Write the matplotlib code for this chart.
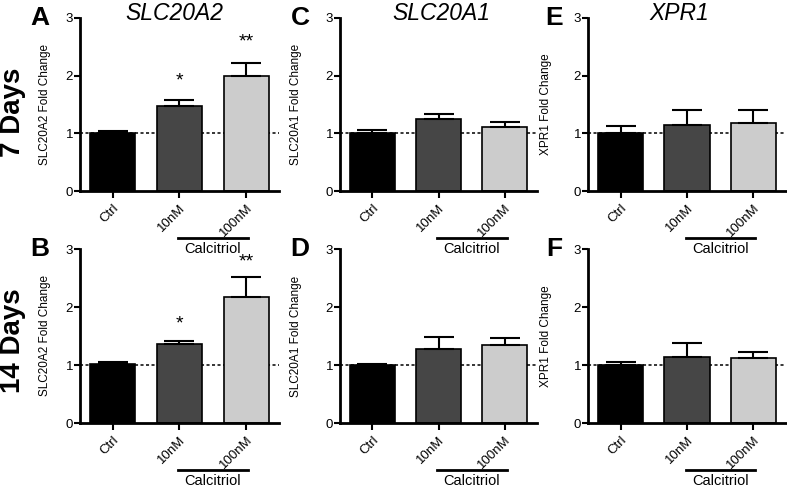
import numpy as np
import matplotlib
matplotlib.use('Agg')
import matplotlib.pyplot as plt

plt.rcParams['font.family'] = ['Liberation Sans', 'DejaVu Sans']

# DATA
groups = ['Ctrl', '10nM', '100nM']
bar_colors = ['#000000', '#464646', '#cccccc']

genes = ['SLC20A2', 'SLC20A1', 'XPR1']
row_labels = ['7 Days', '14 Days']
panel_letters = [['A', 'C', 'E'], ['B', 'D', 'F']]

slc20a2_7d = [1.00, 1.47, 1.99]
slc20a2_7d_err = [0.04, 0.11, 0.23]
slc20a2_14d = [1.01, 1.36, 2.17]
slc20a2_14d_err = [0.04, 0.05, 0.35]

slc20a1_7d = [1.00, 1.25, 1.11]
slc20a1_7d_err = [0.05, 0.09, 0.08]
slc20a1_14d = [1.00, 1.28, 1.34]
slc20a1_14d_err = [0.02, 0.21, 0.12]

xpr1_7d = [1.00, 1.14, 1.18]
xpr1_7d_err = [0.12, 0.27, 0.22]
xpr1_14d = [1.00, 1.14, 1.12]
xpr1_14d_err = [0.05, 0.24, 0.10]

# significance stars: (group index, y, text)
stars_7d = [(1, 1.90, '*'), (2, 2.58, '**')]
stars_14d = [(1, 1.70, '*'), (2, 2.77, '**')]

values = [[slc20a2_7d, slc20a1_7d, xpr1_7d], [slc20a2_14d, slc20a1_14d, xpr1_14d]]
errors = [[slc20a2_7d_err, slc20a1_7d_err, xpr1_7d_err],
          [slc20a2_14d_err, slc20a1_14d_err, xpr1_14d_err]]
stars = [[stars_7d, [], []], [stars_14d, [], []]]

W, H = 787, 488
fig = plt.figure(figsize=(W / 100, H / 100), dpi=100)

col_left = [80, 340, 588]
col_width = [199, 197, 198]
row_top = [18, 249]
row_height = [173, 174]
ylab_off = [29, 38, 36]

x = np.arange(3)
for r in range(2):
    for c in range(3):
        ax = fig.add_axes([col_left[c] / W, 1 - (row_top[r] + row_height[r]) / H,
                           col_width[c] / W, row_height[r] / H])
        ax.patch.set_visible(False)
        vals = values[r][c]
        errs = errors[r][c]
        ax.bar(x, vals, width=0.68, color=bar_colors, edgecolor='black', linewidth=1.2, zorder=2)
        ax.errorbar(x, vals, yerr=[[0, 0, 0], errs], fmt='none', ecolor='black',
                    elinewidth=1.5, capsize=11, capthick=1.5, zorder=3)
        ax.axhline(1, color='black', lw=1.1, ls=(0, (2, 1.6)), zorder=1)

        ax.set_xlim(-0.49, 2.49)
        ax.set_ylim(0, 3)
        ax.set_yticks([0, 1, 2, 3])
        ax.set_xticks(x)
        ax.set_xticklabels(groups, rotation=45, ha='right', va='top',
                           rotation_mode='anchor', fontsize=9.5)
        ax.tick_params(axis='y', labelsize=9.5, length=4, width=1.5, pad=1)
        ax.tick_params(axis='x', length=5, width=1.5, pad=3)
        for s in ['top', 'right']:
            ax.spines[s].set_visible(False)
        for s in ['left', 'bottom']:
            ax.spines[s].set_linewidth(2)

        ax.set_ylabel(f'{genes[c]} Fold Change', fontsize=8.5)
        ax.yaxis.set_label_coords(-ylab_off[c] / col_width[c], 0.5)

        for gi, sy, st in stars[r][c]:
            ax.text(gi, sy, st, ha='center', va='center', fontsize=14)

        # Calcitriol bracket
        tr = ax.get_xaxis_transform()
        ax.plot([0.98, 2.03], [-47 / row_height[r]] * 2, color='black', lw=2,
                transform=tr, clip_on=False)
        ax.text(1.5, -58 / row_height[r], 'Calcitriol', transform=tr, ha='center',
                va='center', fontsize=10.5, zorder=5)

        # panel letter
        lx = [40, 300, 554][c]
        fig.text(lx / W, 1 - (row_top[r]) / H, panel_letters[r][c], fontsize=19,
                 fontweight='bold', ha='center', va='center')

# gene titles
for c, cx in enumerate([174, 441, 679]):
    fig.text(cx / W, 1 - 14 / H, genes[c], fontsize=16.5, style='italic',
             ha='center', va='center')

# row labels
for r, cy in enumerate([112, 341]):
    fig.text(13 / W, 1 - cy / H, row_labels[r], fontsize=20, fontweight='bold',
             rotation=90, ha='center', va='center')

fig.savefig('out.png', dpi=100)
